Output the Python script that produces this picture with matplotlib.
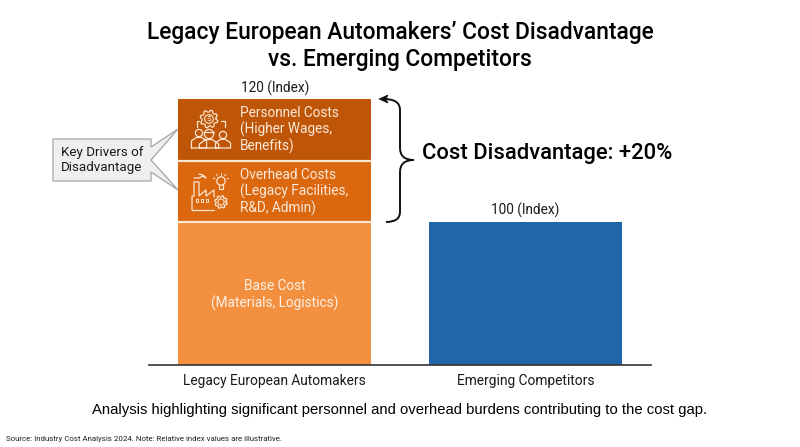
import numpy as np
import matplotlib
matplotlib.use('Agg')
import matplotlib.pyplot as plt
from matplotlib.patches import Circle, Polygon, PathPatch, Rectangle
from matplotlib.path import Path

# data
categories = ['Legacy European Automakers', 'Emerging Competitors']
base_cost = [100, 100]
overhead_cost = [43, 0]
personnel_cost = [43, 0]
total_labels = ['120 (Index)', '100 (Index)']

W, H = 800, 447
plt.rcParams['font.family'] = ['Roboto', 'DejaVu Sans']
fig = plt.figure(figsize=(W / 100, H / 100), dpi=100, facecolor='white')

# chart axes, baseline at y=365 px, 100 units = 143 px
ax = fig.add_axes([149 / W, 1 - 365 / H, 502 / W, 286 / H])
ax.set_xlim(-0.5, 1.5)
ax.set_ylim(0, 200)
x = np.arange(len(categories))
bar_w = 0.769
ax.bar(x[0], base_cost[0], bar_w, color='#F29040', edgecolor='none')
ax.bar(x[1], base_cost[1], bar_w, color='#2066A8', edgecolor='none')
ax.bar(x[0], overhead_cost[0], bar_w, bottom=base_cost[0], color='#DB670F', edgecolor='none')
ax.bar(x[0], personnel_cost[0], bar_w, bottom=base_cost[0] + overhead_cost[0],
       color='#BF5507', edgecolor='none')
ax.hlines([base_cost[0], base_cost[0] + overhead_cost[0]], x[0] - bar_w / 2, x[0] + bar_w / 2,
          color='#FBE6D2', lw=1.6)
for s in ['top', 'left', 'right']:
    ax.spines[s].set_visible(False)
ax.spines['bottom'].set_color('#333333')
ax.spines['bottom'].set_linewidth(1.2)
ax.set_yticks([])
ax.set_xticks(x)
ax.set_xticklabels(categories, fontsize=9.9, color='#1a1a1a')
ax.tick_params(axis='x', length=0, pad=6.5)

# overlay in pixel coords for the annotations
ov = fig.add_axes([0, 0, 1, 1])
ov.set_xlim(0, W)
ov.set_ylim(H, 0)
ov.axis('off')
ov.patch.set_alpha(0)

ov.text(400, 46, "Legacy European Automakers’ Cost Disadvantage\nvs. Emerging Competitors",
        ha='center', va='center', fontsize=16.4, fontweight='medium', color='black', linespacing=1.18)
ov.text(275, 88, total_labels[0], ha='center', va='center', fontsize=9.8, color='#1a1a1a')
ov.text(525, 210, total_labels[1], ha='center', va='center', fontsize=9.8, color='#1a1a1a')

ov.text(240, 130, 'Personnel Costs\n(Higher Wages,\nBenefits)', ha='left', va='center',
        fontsize=9.8, color='#FBE9DA', linespacing=1.17)
ov.text(240, 192, 'Overhead Costs\n(Legacy Facilities,\nR&D, Admin)', ha='left', va='center',
        fontsize=9.8, color='#FBE9DA', linespacing=1.17)
ov.text(275, 295, 'Base Cost\n(Materials, Logistics)', ha='center', va='center',
        fontsize=9.8, color='#FDF0E4', linespacing=1.2)

ov.text(422, 153, 'Cost Disadvantage: +20%', ha='left', va='center', fontsize=15.85, fontweight='medium',
        color='black')
ov.text(400, 410, 'Analysis highlighting significant personnel and overhead burdens contributing to the cost gap.',
        ha='center', va='center', fontsize=10.7, family='Liberation Sans', color='black')
ov.text(6, 439, 'Source: Industry Cost Analysis 2024. Note: Relative index values are illustrative.',
        ha='left', va='center', fontsize=5.7, color='#222222')

# callout
ov.add_patch(Polygon([(53, 139), (151, 139), (151, 147), (178, 129), (151, 160), (178, 190),
                      (151, 172), (151, 181), (53, 181)], closed=True,
                     facecolor='#EFEFEF', edgecolor='#A5A5A5', lw=0.9, zorder=5))
ov.text(102, 160, 'Key Drivers of\nDisadvantage', ha='center', va='center', fontsize=9.6,
        color='#1a1a1a', linespacing=1.2, zorder=6)

# brace
brace = Path([(384, 99), (400, 99), (400, 110), (400, 148), (400, 160), (414, 160),
              (400, 160), (400, 172), (400, 212), (400, 222), (386, 222)],
             [Path.MOVETO, Path.CURVE3, Path.CURVE3, Path.LINETO, Path.CURVE3, Path.CURVE3,
              Path.CURVE3, Path.CURVE3, Path.LINETO, Path.CURVE3, Path.CURVE3])
ov.add_patch(PathPatch(brace, facecolor='none', edgecolor='#111111', lw=1.4))
ov.add_patch(Polygon([(379, 99), (388, 95), (386, 99), (388, 103)], closed=True,
                     facecolor='#111111', edgecolor='#111111', lw=0.5))

# icons
ic = '#FBE6D2'


def line(pts, lw=0.9):
    ov.plot([p[0] for p in pts], [p[1] for p in pts], color=ic, lw=lw, solid_capstyle='round',
            solid_joinstyle='round', zorder=6)


def gear(cx, cy, r, n=8):
    ang = np.linspace(0, 2 * np.pi, n * 4 + 1)
    rad = np.tile([r, r * 1.28, r * 1.28, r], n)
    rad = np.append(rad, r)
    line(list(zip(cx + rad * np.cos(ang), cy + rad * np.sin(ang))))
    ov.add_patch(Circle((cx, cy), r * 0.62, fill=False, edgecolor=ic, lw=0.8, zorder=6))


def person(cx, cy, r):
    ov.add_patch(Circle((cx, cy), r, facecolor='#BF5507', edgecolor=ic, lw=0.9, zorder=6))
    line([(cx - r * 2.1, 148), (cx - r * 2.1, cy + r * 2.2), (cx - r * 0.7, cy + r * 1.2),
          (cx + r * 0.7, cy + r * 1.2), (cx + r * 2.1, cy + r * 2.2), (cx + r * 2.1, 148),
          (cx - r * 2.1, 148)])


gear(209, 119, 7)
ov.text(209, 119, '$', color=ic, fontsize=6, ha='center', va='center', zorder=7)
line([(199, 121), (197, 121), (197, 127)])
line([(221, 121), (225, 121), (225, 127)])
person(199, 133, 3.6)
person(223, 135, 3.6)
person(209, 134, 4.6)
line([(204, 132), (214, 132)])

# factory
line([(192, 210), (192, 196), (194, 196), (194, 182), (199, 182), (199, 196), (206, 190),
      (206, 196), (214, 190), (214, 197)])
line([(192, 210), (214, 210)])
for wx in [197, 202, 207]:
    ov.add_patch(Rectangle((wx - 1.2, 199), 2.6, 2.6, fill=False, edgecolor=ic, lw=0.7, zorder=6))
gear(221, 202, 5)
ov.add_patch(Circle((221, 181), 4.2, fill=False, edgecolor=ic, lw=0.9, zorder=6))
line([(219, 185), (219, 189), (223, 189), (223, 185)])
for a in np.deg2rad([-160, -125, -90, -55, -20]):
    line([(221 + 6.2 * np.cos(a), 181 + 6.2 * np.sin(a)), (221 + 8.2 * np.cos(a), 181 + 8.2 * np.sin(a))], 0.7)
line([(194, 178), (199, 178), (203, 176), (206, 178), (203, 175), (199, 174)])

fig.savefig('out.png', dpi=100, facecolor='white')
